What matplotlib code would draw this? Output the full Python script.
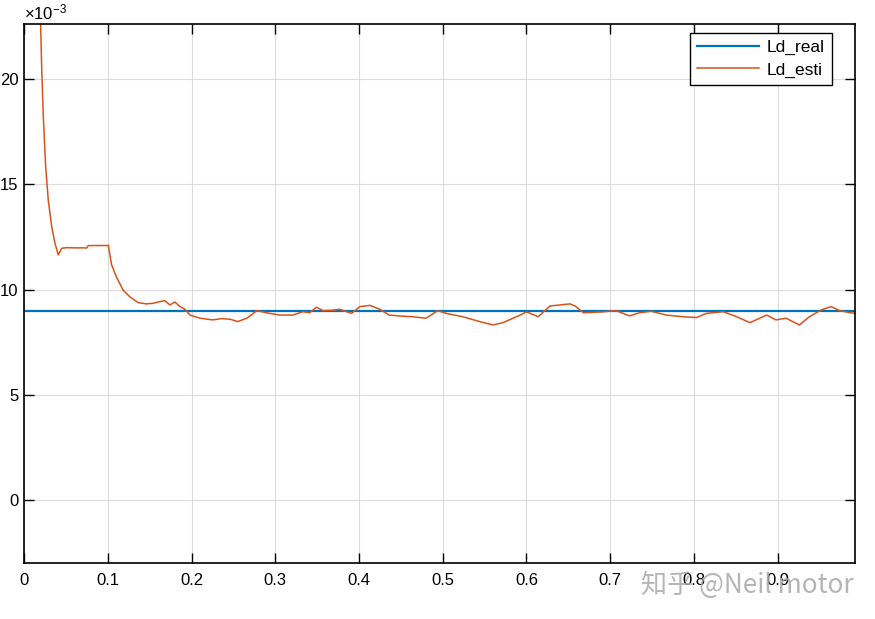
import matplotlib
matplotlib.use('Agg')
import matplotlib.pyplot as plt

plt.rcParams['font.family'] = ['Liberation Sans', 'DejaVu Sans']
plt.rcParams['mathtext.fontset'] = 'custom'
plt.rcParams['mathtext.rm'] = 'Liberation Sans'
plt.rcParams['mathtext.it'] = 'Liberation Sans'

# reference inductance (x1e-3 H)
t_real = [0.0, 0.9925]
ld_real = [8.96, 8.96]

# estimated inductance (x1e-3 H)
t_esti = [0.0185, 0.0196, 0.0208, 0.0228, 0.0256, 0.0287, 0.0328, 0.0367, 0.0407,
          0.0447, 0.0507, 0.0600, 0.0706, 0.0746, 0.0765, 0.0985, 0.1004, 0.1044,
          0.110, 0.118, 0.126, 0.136, 0.146, 0.154, 0.162, 0.168, 0.174, 0.180,
          0.186, 0.192, 0.198, 0.210, 0.225, 0.236, 0.246, 0.255, 0.266, 0.278,
          0.289, 0.305, 0.321, 0.333, 0.341, 0.349, 0.357, 0.368, 0.377, 0.391,
          0.401, 0.413, 0.425, 0.436, 0.450, 0.464, 0.480, 0.494, 0.504, 0.524,
          0.544, 0.560, 0.572, 0.584, 0.592, 0.600, 0.614, 0.628, 0.640, 0.652,
          0.658, 0.668, 0.680, 0.691, 0.707, 0.723, 0.735, 0.749, 0.767, 0.787,
          0.803, 0.815, 0.835, 0.851, 0.867, 0.887, 0.898, 0.910, 0.926, 0.938,
          0.952, 0.964, 0.974, 0.984, 0.9925]
ld_esti = [25.0, 22.6, 20.58, 18.2, 15.83, 14.25, 12.99, 12.2, 11.64,
           11.96, 11.99, 11.98, 11.98, 11.97, 12.09, 12.09, 12.10, 11.17,
           10.61, 9.98, 9.66, 9.38, 9.32, 9.35, 9.43, 9.47, 9.27, 9.41,
           9.19, 9.06, 8.79, 8.64, 8.56, 8.62, 8.59, 8.48, 8.64, 9.0,
           8.90, 8.79, 8.79, 8.95, 8.90, 9.16, 9.0, 9.02, 9.06, 8.87,
           9.19, 9.25, 9.06, 8.79, 8.74, 8.71, 8.64, 9.0, 8.87, 8.71,
           8.48, 8.32, 8.43, 8.64, 8.78, 8.94, 8.71, 9.22, 9.27, 9.32,
           9.22, 8.90, 8.92, 8.94, 9.0, 8.75, 8.9, 8.97, 8.79, 8.71,
           8.67, 8.87, 8.95, 8.71, 8.43, 8.79, 8.56, 8.64, 8.32, 8.71,
           9.03, 9.19, 9.0, 8.92, 8.87]

x_ticks = [0, 0.1, 0.2, 0.3, 0.4, 0.5, 0.6, 0.7, 0.8, 0.9]
x_labels = ['0', '0.1', '0.2', '0.3', '0.4', '0.5', '0.6', '0.7', '0.8', '0.9']
y_ticks = [0, 5, 10, 15, 20]

fig = plt.figure(figsize=(8.75, 6.19), dpi=100)
ax = fig.add_axes([0.0277, 0.0905, 0.9495, 0.8705])

ax.plot(t_real, ld_real, color='#0072BD', linewidth=1.6, label='Ld_real')
ax.plot(t_esti, ld_esti, color='#D95319', linewidth=1.1, label='Ld_esti')

ax.set_xlim(0, 0.9925)
ax.set_ylim(-2.98, 22.6)
ax.set_xticks(x_ticks)
ax.set_xticklabels(x_labels)
ax.set_yticks(y_ticks)
ax.tick_params(direction='in', top=True, right=True, labelsize=12, length=7,
               width=1, colors='black')
ax.tick_params(axis='x', pad=7)
ax.tick_params(axis='y', pad=4)
ax.grid(True, color='#dcdcdc', linewidth=0.8)
for s in ax.spines.values():
    s.set_linewidth(1.2)

ax.text(0.0, 1.004, r'$\times10^{-3}$', transform=ax.transAxes, fontsize=12,
        ha='left', va='bottom')

leg = ax.legend(loc='upper right', bbox_to_anchor=(0.9723, 0.9833),
                fontsize=12.5, fancybox=False, framealpha=1,
                edgecolor='black', borderaxespad=0, handlelength=3.6,
                borderpad=0.4, labelspacing=0.4, handletextpad=0.45)
leg.get_frame().set_linewidth(1.0)

fig.text(0.733, 0.033, '知乎 @Neil motor', fontsize=18.8, color='#a8a8a8', alpha=0.85,
         family=['Noto Sans CJK SC', 'DejaVu Sans'], ha='left', va='bottom')

fig.savefig('out.png', dpi=100)
